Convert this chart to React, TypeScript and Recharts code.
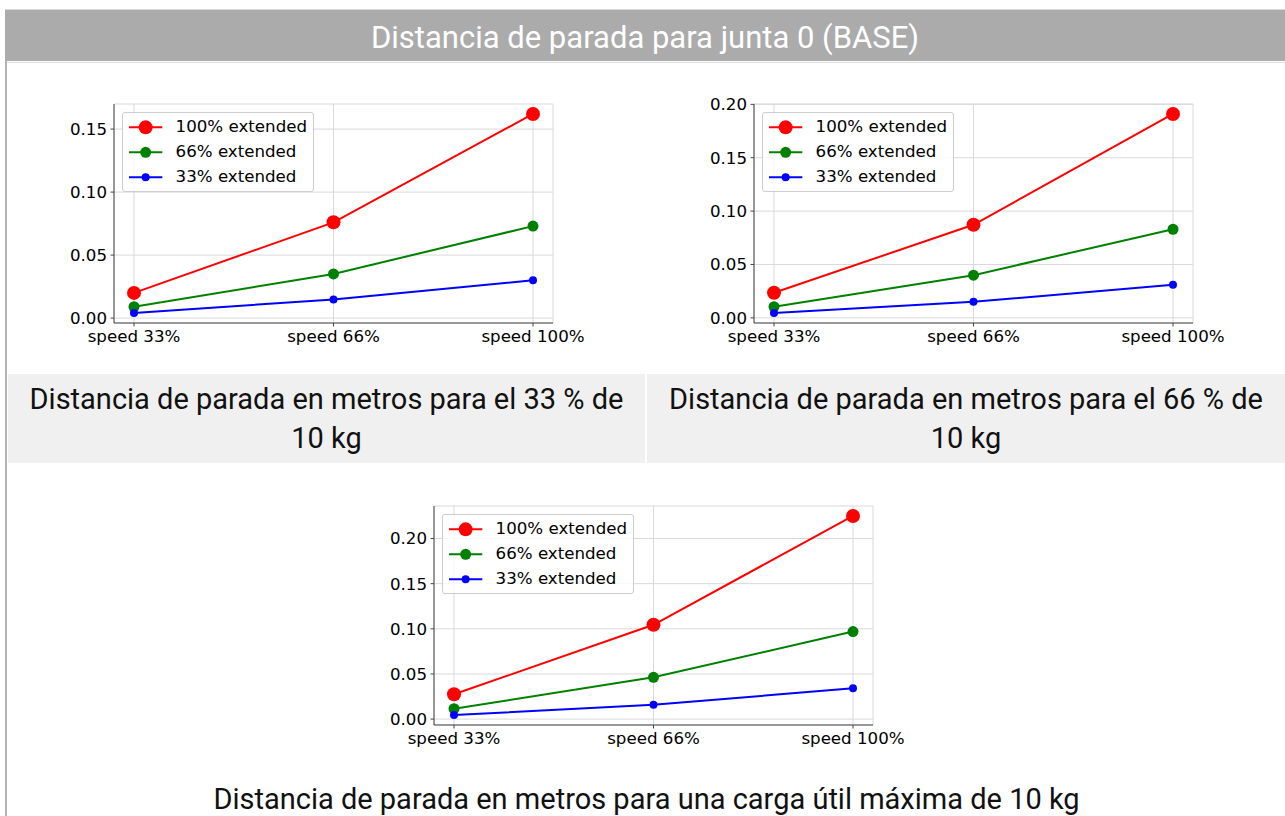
import React from 'react';
import { LineChart, Line, XAxis, YAxis, CartesianGrid, Legend } from 'recharts';

// ---- data ----
const categories = ['speed 33%', 'speed 66%', 'speed 100%'];
const seriesNames = ['100% extended', '66% extended', '33% extended'];

const c1Red = [0.020, 0.076, 0.162];
const c1Green = [0.009, 0.035, 0.073];
const c1Blue = [0.004, 0.0148, 0.030];
const c1Ticks = [0, 0.05, 0.10, 0.15];

const c2Red = [0.0235, 0.0872, 0.191];
const c2Green = [0.0105, 0.0400, 0.0830];
const c2Blue = [0.0045, 0.0150, 0.0310];
const c2Ticks = [0, 0.05, 0.10, 0.15, 0.20];

const c3Red = [0.0275, 0.1045, 0.225];
const c3Green = [0.0115, 0.0463, 0.0970];
const c3Blue = [0.0045, 0.0158, 0.0342];
const c3Ticks = [0, 0.05, 0.10, 0.15, 0.20];

const pageTitle = 'Distancia de parada para junta 0 (BASE)';
const caption1 = ['Distancia de parada en metros para el 33 % de', '10 kg'];
const caption2 = ['Distancia de parada en metros para el 66 % de', '10 kg'];
const caption3 = 'Distancia de parada en metros para una carga útil máxima de 10 kg';

// ---- styles ----
const seriesKeys = ['r', 'g', 'b'];
const seriesColors = ['#ff0000', '#008000', '#0000ff'];
const markerRadii = [7, 5.5, 4];
const tickFont = { fontFamily: 'DejaVu Sans', fontSize: 16.67, fill: '#000' };
const spine = '#444444';
const gridColor = '#d9d9d9';

function buildRows(red: number[], green: number[], blue: number[]) {
  return categories.map((cat, i) => ({ cat, r: red[i], g: green[i], b: blue[i] }));
}

function autoDomain(arrs: number[][]): [number, number] {
  const all = arrs.flat();
  const mn = Math.min(...all);
  const mx = Math.max(...all);
  const pad = (mx - mn) * 0.05;
  return [mn - pad, mx + pad];
}

const PLOT_W = 439;
const PLOT_H = 219;
const M_TOP = 14;
const Y_W = 64;
const M_RIGHT = 50;
const X_H = 30;
const M_BOTTOM = 10;

function renderLegend(props: any) {
  const payload = [...(props.payload || [])].sort(
    (a: any, b: any) => seriesKeys.indexOf(a.dataKey) - seriesKeys.indexOf(b.dataKey)
  );
  return (
    <div
      style={{
        border: '1px solid #cccccc',
        borderRadius: 3,
        background: 'rgba(255,255,255,0.8)',
        padding: '5.7px',
        fontFamily: 'DejaVu Sans',
        fontSize: 16.67,
        color: '#000',
        lineHeight: '16.7px',
        display: 'inline-block',
      }}
    >
      {payload.map((p: any, i: number) => {
        const idx = seriesKeys.indexOf(p.dataKey);
        const r = markerRadii[idx] ?? 5;
        return (
          <div
            key={i}
            style={{ display: 'flex', alignItems: 'center', height: 16.7, marginTop: i ? 8.3 : 0 }}
          >
            <svg width={33.3} height={16.7} style={{ display: 'block', overflow: 'visible' }}>
              <line x1={0} x2={33.3} y1={8.35} y2={8.35} stroke={p.color} strokeWidth={2} />
              <circle cx={16.65} cy={8.35} r={r} fill={p.color} />
            </svg>
            <span style={{ marginLeft: 13.3, whiteSpace: 'nowrap' }}>{p.value}</span>
          </div>
        );
      })}
    </div>
  );
}

function StopChart(props: { red: number[]; green: number[]; blue: number[]; ticks: number[]; left: number; top: number }) {
  const data = buildRows(props.red, props.green, props.blue);
  const domain = autoDomain([props.red, props.green, props.blue]);
  return (
    <div style={{ position: 'absolute', left: props.left - Y_W, top: props.top - M_TOP }}>
      <LineChart
        width={Y_W + PLOT_W + M_RIGHT}
        height={M_TOP + PLOT_H + X_H + M_BOTTOM}
        data={data}
        margin={{ top: M_TOP, right: M_RIGHT, bottom: M_BOTTOM, left: 0 }}
      >
        <CartesianGrid stroke={gridColor} strokeWidth={1} />
        <XAxis
          dataKey="cat"
          padding={{ left: 20, right: 20 }}
          interval={0}
          height={X_H}
          tickSize={3.5}
          tickMargin={3.5}
          tick={tickFont}
          tickLine={{ stroke: spine }}
          axisLine={{ stroke: spine }}
        />
        <XAxis
          xAxisId="top"
          orientation="top"
          dataKey="cat"
          padding={{ left: 20, right: 20 }}
          height={0}
          tick={false}
          tickLine={false}
          axisLine={{ stroke: spine }}
        />
        <YAxis
          type="number"
          domain={domain}
          ticks={props.ticks}
          tickFormatter={(v: number) => v.toFixed(2)}
          width={Y_W}
          tickSize={3.5}
          tickMargin={3.5}
          tick={tickFont}
          tickLine={{ stroke: spine }}
          axisLine={{ stroke: spine }}
          allowDataOverflow
        />
        <YAxis
          yAxisId="right"
          orientation="right"
          width={0}
          domain={[0, 1]}
          tick={false}
          tickLine={false}
          axisLine={{ stroke: spine }}
        />
        <Legend
          content={renderLegend}
          layout="vertical"
          align="center"
          verticalAlign="middle"
          itemSorter={null as any}
          wrapperStyle={{ left: Y_W + 8.3, top: M_TOP + 8.3, width: 'auto', height: 'auto' }}
        />
        {seriesKeys.map((k, i) => (
          <Line
            key={k}
            dataKey={k}
            name={seriesNames[i]}
            stroke={seriesColors[i]}
            strokeWidth={2}
            dot={{ r: markerRadii[i], fill: seriesColors[i], stroke: seriesColors[i], strokeWidth: 0 }}
            activeDot={false}
            isAnimationActive={false}
          />
        ))}
      </LineChart>
    </div>
  );
}

const captionFont: React.CSSProperties = {
  fontFamily: 'Roboto, "Liberation Sans", sans-serif',
  fontSize: 29,
  color: '#111111',
  textAlign: 'center',
};

export default function App() {
  return (
    <div style={{ position: 'absolute', left: 0, top: 0, width: 1285, height: 816, background: '#ffffff', overflow: 'hidden' }}>
      <div style={{ position: 'absolute', left: 5, top: 9, width: 1280, height: 1, background: '#d8d8d8' }} />
      <div
        style={{
          position: 'absolute', left: 5, top: 10, width: 1280, height: 51, background: '#ababab',
          color: '#ffffff', fontFamily: 'Roboto, sans-serif', fontSize: 31, lineHeight: '55px', textAlign: 'center',
          overflow: 'hidden',
        }}
      >
        {pageTitle}
      </div>
      <div style={{ position: 'absolute', left: 5, top: 62, width: 1280, height: 1, background: '#dddddd' }} />
      <div style={{ position: 'absolute', left: 5, top: 61, width: 2, height: 755, background: '#b3b3b3' }} />

      <StopChart red={c1Red} green={c1Green} blue={c1Blue} ticks={c1Ticks} left={114} top={104} />
      <StopChart red={c2Red} green={c2Green} blue={c2Blue} ticks={c2Ticks} left={754} top={104} />

      <div
        style={{
          position: 'absolute', left: 8, top: 374, width: 637, height: 89, background: '#eff0ef',
          display: 'flex', flexDirection: 'column', justifyContent: 'center', ...captionFont, lineHeight: '39px',
        }}
      >
        {caption1.map((t, i) => <div key={i}>{t}</div>)}
      </div>
      <div
        style={{
          position: 'absolute', left: 647, top: 374, width: 638, height: 89, background: '#eff0ef',
          display: 'flex', flexDirection: 'column', justifyContent: 'center', ...captionFont, lineHeight: '39px',
        }}
      >
        {caption2.map((t, i) => <div key={i}>{t}</div>)}
      </div>

      <StopChart red={c3Red} green={c3Green} blue={c3Blue} ticks={c3Ticks} left={434} top={506} />

      <div style={{ position: 'absolute', left: 8, top: 781, width: 1277, height: 35, lineHeight: '36px', ...captionFont }}>
        {caption3}
      </div>
    </div>
  );
}
